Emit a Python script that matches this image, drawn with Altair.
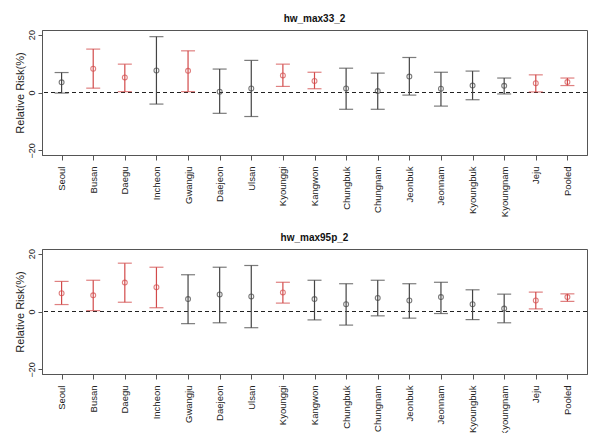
import altair as alt
import pandas as pd

regions = ["Seoul", "Busan", "Daegu", "Incheon", "Gwangju", "Daejeon", "Ulsan",
           "Kyounggi", "Kangwon", "Chungbuk", "Chungnam", "Jeonbuk", "Jeonnam",
           "Kyoungbuk", "Kyoungnam", "Jeju", "Pooled"]

# hw_max33_2
est1 = [3.5, 8.2, 5.2, 7.6, 7.5, 0.3, 1.4, 5.9, 4.0, 1.4, 0.5, 5.5, 1.3, 2.4, 2.3, 3.2, 3.6]
lo1 = [-0.2, 1.5, 0.3, -4.0, 0.3, -7.2, -8.3, 2.1, 1.3, -5.8, -5.8, -0.9, -4.7, -2.5, -0.5, 0.2, 2.4]
hi1 = [6.9, 15.0, 9.8, 19.3, 14.4, 8.1, 11.1, 9.8, 7.0, 8.4, 6.7, 12.1, 7.0, 7.4, 5.0, 6.1, 5.0]
sig1 = ["ns", "sig", "sig", "ns", "sig", "ns", "ns", "sig", "sig", "ns", "ns", "ns", "ns",
        "ns", "ns", "sig", "sig"]

# hw_max95p_2
est2 = [6.3, 5.6, 10.0, 8.4, 4.3, 5.9, 5.2, 6.6, 4.3, 2.5, 4.7, 3.8, 5.0, 2.5, 1.0, 3.8, 5.0]
lo2 = [2.4, 0.3, 3.2, 1.3, -4.2, -3.9, -5.6, 2.9, -2.9, -4.7, -1.5, -2.3, -0.7, -2.8, -3.9, 0.9, 3.5]
hi2 = [10.4, 10.8, 16.7, 15.3, 12.7, 15.3, 15.9, 10.1, 10.8, 9.6, 10.8, 9.6, 10.1, 7.5, 6.0, 6.7, 6.1]
sig2 = ["sig", "sig", "sig", "sig", "ns", "ns", "ns", "sig", "ns", "ns", "ns", "ns", "ns",
        "ns", "ns", "sig", "sig"]

FONT = "Liberation Sans"
RED = "#d24a4a"
DARK = "#444444"


def panel(title, est, lo, hi, sig):
    df = pd.DataFrame({"region": regions, "est": est, "lo": lo, "hi": hi, "sig": sig})
    x = alt.X("region:N", sort=regions,
              scale=alt.Scale(type="point", padding=0.62),
              axis=alt.Axis(title=None, labelAngle=270, labelAlign="right",
                            labelBaseline="middle", labelFontSize=9.5, labelColor="#222",
                            labelPadding=6, tickSize=5, tickColor="#555",
                            domainColor="#555", grid=False))
    yscale = alt.Scale(domain=[-21.6, 21.6], nice=False, zero=False)
    color = alt.Color("sig:N", scale=alt.Scale(domain=["sig", "ns"], range=[RED, DARK]),
                      legend=None)
    base = alt.Chart(df)
    rule = base.mark_rule(strokeWidth=1.2).encode(
        x=x,
        y=alt.Y("lo:Q", scale=yscale,
                axis=alt.Axis(title="Relative Risk(%)", values=[-20, -10, 0, 10, 20],
                              labelAngle=270, labelAlign="center", labelBaseline="bottom",
                              labelFontSize=9, labelColor="#222", labelPadding=2,
                              tickSize=4, tickColor="#555", domainColor="#555",
                              grid=False, titleFontSize=11, titleFontWeight="normal",
                              titleColor="#222", titlePadding=2)),
        y2="hi:Q",
        color=color,
    )
    cap_lo = base.mark_tick(orient="horizontal", size=14, thickness=1.2).encode(
        x=x, y=alt.Y("lo:Q", scale=yscale), color=color)
    cap_hi = base.mark_tick(orient="horizontal", size=14, thickness=1.2).encode(
        x=x, y=alt.Y("hi:Q", scale=yscale), color=color)
    pts = base.mark_point(shape="circle", size=24, filled=False, strokeWidth=1.1).encode(
        x=x, y=alt.Y("est:Q", scale=yscale), color=color)
    zero = alt.Chart(pd.DataFrame({"z": [0]})).mark_rule(
        strokeDash=[4, 3], color="#222", strokeWidth=1).encode(
        y=alt.Y("z:Q", scale=yscale))
    return alt.layer(zero, rule, cap_lo, cap_hi, pts).properties(
        width=545, height=125,
        title=alt.TitleParams(title, fontSize=10, fontWeight="bold", font=FONT,
                              anchor="middle", offset=6, color="#111"))


chart = alt.vconcat(
    panel("hw_max33_2", est1, lo1, hi1, sig1),
    panel("hw_max95p_2", est2, lo2, hi2, sig2),
    spacing=14,
).configure(font=FONT).configure_view(stroke="#555", strokeWidth=1).configure_axis(
    labelFont=FONT, titleFont=FONT)

chart.save("out.html", embed_options={"renderer": "svg", "actions": False})
